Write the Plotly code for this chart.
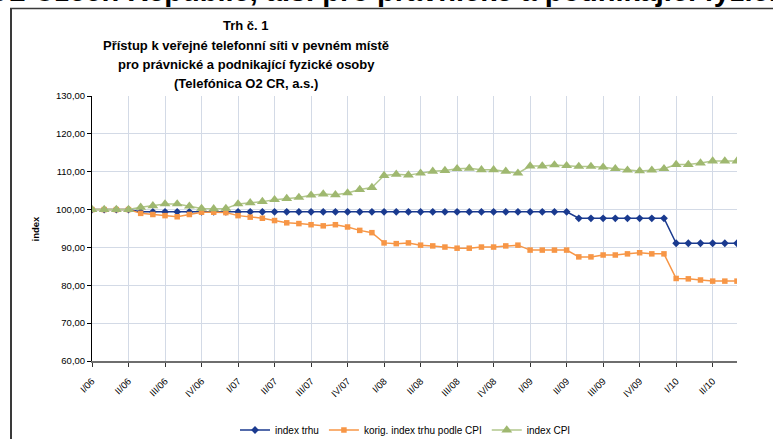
import plotly.graph_objects as go

# ---- data -------------------------------------------------------------
quarters = ["I/06", "II/06", "III/06", "IV/06",
            "I/07", "II/07", "III/07", "IV/07",
            "I/08", "II/08", "III/08", "IV/08",
            "I/09", "II/09", "III/09", "IV/09",
            "I/10", "II/10"]
months_per_quarter = 3

index_trhu = [100.0, 100.0, 100.0, 100.0,
              99.4, 99.4, 99.4, 99.4, 99.4, 99.4, 99.4, 99.4, 99.4, 99.4,
              99.4, 99.4, 99.4, 99.4, 99.4, 99.4, 99.4, 99.4, 99.4, 99.4,
              99.4, 99.4, 99.4, 99.4, 99.4, 99.4, 99.4, 99.4, 99.4, 99.4,
              99.4, 99.4, 99.4, 99.4, 99.4, 99.4,
              97.7, 97.7, 97.7, 97.7, 97.7, 97.7, 97.7, 97.7,
              91.1, 91.1, 91.1, 91.1, 91.1, 91.1]

korig_index = [100.0, 100.0, 100.0, 100.0, 99.0, 98.7, 98.4, 98.1, 98.7, 99.3,
               99.3, 99.2, 98.4, 98.0, 97.7, 97.1, 96.5, 96.3, 96.0, 95.7,
               96.0, 95.4, 94.5, 93.9, 91.2, 91.0, 91.2, 90.6, 90.4, 90.1,
               89.8, 89.8, 90.1, 90.1, 90.4, 90.6, 89.3, 89.3, 89.3, 89.3,
               87.5, 87.5, 88.0, 88.0, 88.3, 88.6, 88.3, 88.3, 81.8, 81.7,
               81.4, 81.1, 81.1, 81.1]

index_cpi = [100.0, 100.0, 100.0, 100.0, 100.6, 101.0, 101.5, 101.5, 100.9, 100.3,
             100.2, 100.3, 101.5, 101.8, 102.1, 102.6, 102.9, 103.2, 103.8, 104.1,
             103.9, 104.4, 105.3, 105.8, 109.0, 109.3, 109.1, 109.6, 110.1, 110.3,
             110.8, 110.9, 110.5, 110.5, 110.1, 109.6, 111.5, 111.5, 111.8, 111.6,
             111.4, 111.4, 111.2, 110.8, 110.4, 110.2, 110.4, 110.8, 111.9, 111.9,
             112.3, 112.8, 112.8, 112.8]

series_names = ["index trhu", "korig. index trhu podle CPI", "index CPI"]
y_ticks = [60, 70, 80, 90, 100, 110, 120, 130]

# ---- figure -----------------------------------------------------------
FONT = "Arial, Liberation Sans, sans-serif"
x = list(range(len(index_trhu)))
tickvals = [i * months_per_quarter for i in range(len(quarters))]

fig = go.Figure()
fig.add_trace(go.Scatter(x=x, y=index_trhu, name=series_names[0], mode="lines+markers",
                         line=dict(color="#1a3a8f", width=1.5),
                         marker=dict(symbol="diamond", size=6, color="#1a3a8f")))
fig.add_trace(go.Scatter(x=x, y=korig_index, name=series_names[1], mode="lines+markers",
                         line=dict(color="#f79646", width=1.5),
                         marker=dict(symbol="square", size=5.5, color="#f79646")))
fig.add_trace(go.Scatter(x=x, y=index_cpi, name=series_names[2], mode="lines+markers",
                         line=dict(color="#b2c78c", width=1.5),
                         marker=dict(symbol="triangle-up", size=9.5, color="#9fb870")))

L, R, T, B = 92, 36, 96, 78
W, H = 773, 439
pw, ph = W - L - R, H - T - B

def px_x(p):
    return (p - L) / pw

def px_y(p):
    return (H - B - p) / ph

fig.update_layout(
    width=W, height=H,
    margin=dict(l=L, r=R, t=T, b=B, pad=0, autoexpand=False),
    paper_bgcolor="white", plot_bgcolor="white",
    separators=", ",
    font=dict(family=FONT, size=9, color="black"),
    showlegend=True,
    legend=dict(orientation="h", x=px_x(235), xanchor="left", y=px_y(430), yanchor="middle",
                font=dict(family=FONT, size=10, color="black"),
                itemwidth=30, tracegroupgap=0, bgcolor="rgba(0,0,0,0)"),
    xaxis=dict(range=[0, len(x) - 1], tickmode="array", tickvals=tickvals, ticktext=quarters,
               tickangle=-45, tickfont=dict(size=9.5, family=FONT), ticklabelstandoff=5,
               showgrid=True, gridcolor="#d3dae6", gridwidth=1,
               showline=True, linecolor="#6e6e6e", linewidth=2,
               ticks="outside", ticklen=4, tickcolor="#333", zeroline=False),
    yaxis=dict(range=[60, 130], tickmode="array", tickvals=y_ticks, tickformat=".2f",
               tickfont=dict(size=9.5, family=FONT),
               showgrid=True, gridcolor="#d3dae6", gridwidth=1,
               showline=True, linecolor="black", linewidth=1,
               ticks="outside", ticklen=4, tickcolor="black", zeroline=False),
)

ann = []
# big clipped heading at top of page
ann.append(dict(text="<b>O2 Czech Republic, a.s. pro právnické a podnikající fyzické osoby</b>",
                xref="paper", yref="paper", x=px_x(-14), y=px_y(8.5), xanchor="left", yanchor="bottom",
                showarrow=False, borderpad=0, font=dict(family=FONT, size=29, color="black")))
# white strip hiding descenders inside the chart frame
ann.append(dict(text=".", xref="paper", yref="paper", x=px_x(12), y=px_y(9.5),
                xanchor="left", yanchor="top", width=780, height=8, bgcolor="white",
                showarrow=False, borderpad=0, borderwidth=0,
                font=dict(size=4, color="white")))
# chart title
title_lines = ["Trh č. 1",
               "Přístup k veřejné telefonní síti v pevném místě",
               "pro právnické a podnikající fyzické osoby",
               "(Telefónica O2 CR, a.s.)"]
for line, py in zip(title_lines, [25, 45, 64, 83]):
    ann.append(dict(text="<b>" + line + "</b>", xref="paper", yref="paper",
                    x=px_x(246), y=px_y(py), xanchor="center", yanchor="middle",
                    showarrow=False, font=dict(family=FONT, size=13, color="black")))
# y axis title
ann.append(dict(text="<b>index</b>", xref="paper", yref="paper", x=px_x(35), y=0.5,
                xanchor="center", yanchor="middle", textangle=-90, showarrow=False,
                font=dict(family=FONT, size=9.5, color="black")))
fig.update_layout(annotations=ann)

# chart frame (left and top edges visible)
fig.add_shape(type="line", xref="paper", yref="paper", x0=px_x(11), x1=px_x(11),
              y0=px_y(8.5), y1=px_y(445), line=dict(color="#3a3a3a", width=2), layer="above")
fig.add_shape(type="line", xref="paper", yref="paper", x0=px_x(10), x1=px_x(780),
              y0=px_y(8.5), y1=px_y(8.5), line=dict(color="#3a3a3a", width=1.5), layer="above")

fig.write_html("out.html", config={"displayModeBar": False},
               post_script="document.body.style.margin='0px';document.body.style.overflow='hidden';")
